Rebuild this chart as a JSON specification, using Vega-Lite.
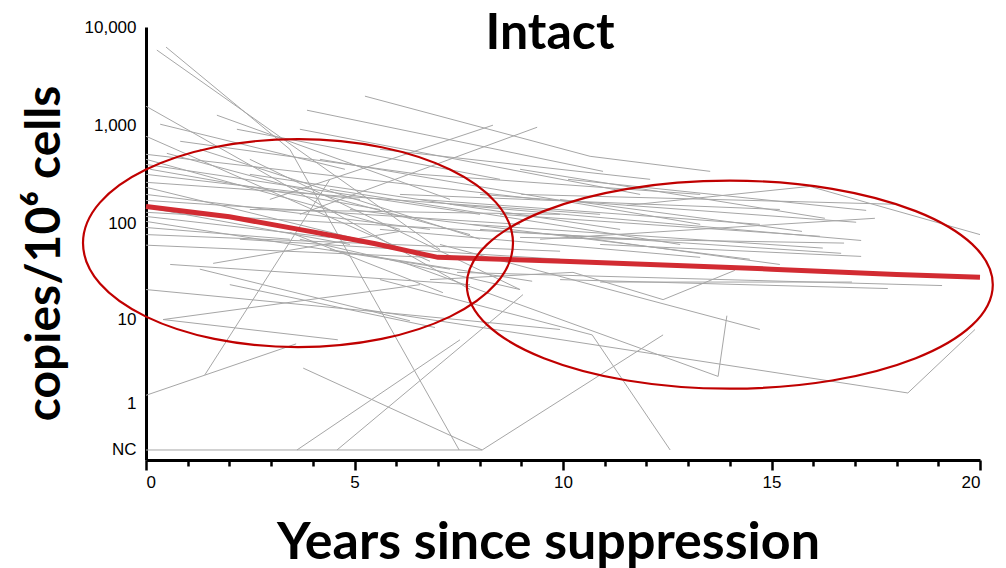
{
  "$schema": "https://vega.github.io/schema/vega-lite/v6.json",
  "width": 834,
  "height": 433,
  "autosize": "none",
  "padding": {"left": 146, "top": 27, "right": 26, "bottom": 108},
  "background": "white",
  "config": {"view": {"stroke": null}, "font": "Liberation Sans"},
  "title": {"text": "Intact", "font": "Lato", "fontSize": 50, "fontWeight": "bold", "color": "black", "anchor": "middle", "frame": "group", "baseline": "alphabetic", "offset": 0, "dy": 81, "dx": -13},
  "datasets": {
    "patients": [
      {"id":1,"year":0.26,"copies":5826},{"id":1,"year":7.05,"copies":54},
      {"id":2,"year":0.48,"copies":6250},{"id":2,"year":3.45,"copies":570},{"id":2,"year":7.51,"copies":0},
      {"id":3,"year":0,"copies":1565},{"id":3,"year":7.77,"copies":21},
      {"id":4,"year":0,"copies":774},{"id":4,"year":6.81,"copies":41},
      {"id":5,"year":0,"copies":507},{"id":5,"year":9.45,"copies":176},
      {"id":6,"year":0,"copies":263},{"id":6,"year":10.89,"copies":124},
      {"id":7,"year":0,"copies":234},{"id":7,"year":5.61,"copies":61},
      {"id":8,"year":0,"copies":172},{"id":8,"year":8.97,"copies":98},
      {"id":9,"year":0,"copies":130},{"id":9,"year":11.85,"copies":69},
      {"id":10,"year":0,"copies":118},{"id":10,"year":4.41,"copies":72},
      {"id":11,"year":0,"copies":105},{"id":11,"year":7.29,"copies":34},
      {"id":12,"year":0,"copies":77},{"id":12,"year":9.93,"copies":52},
      {"id":13,"year":0,"copies":60},{"id":13,"year":8.97,"copies":41},
      {"id":14,"year":0,"copies":20.9},{"id":14,"year":9.93,"copies":7.9},
      {"id":15,"year":0,"copies":1.3},{"id":15,"year":3.6,"copies":5.5},
      {"id":16,"year":1.41,"copies":2.4},{"id":16,"year":4.41,"copies":282},
      {"id":17,"year":0,"copies":0},{"id":17,"year":8.06,"copies":0},{"id":17,"year":12.4,"copies":6.9},
      {"id":18,"year":3.62,"copies":0},{"id":18,"year":7.53,"copies":6.1},
      {"id":19,"year":4.58,"copies":0},{"id":19,"year":9.04,"copies":18.5},
      {"id":20,"year":3.77,"copies":2.9},{"id":20,"year":8.06,"copies":0},
      {"id":21,"year":5.61,"copies":26.5},{"id":21,"year":10.7,"copies":6.9},{"id":21,"year":12.57,"copies":0},
      {"id":22,"year":6.09,"copies":41},{"id":22,"year":13.72,"copies":2.3},{"id":22,"year":13.93,"copies":11.1},
      {"id":23,"year":5.25,"copies":12.9},{"id":23,"year":18.27,"copies":1.4},{"id":23,"year":19.88,"copies":7.9},
      {"id":24,"year":6.81,"copies":26.5},{"id":24,"year":10.24,"copies":31.5},{"id":24,"year":12.4,"copies":16.4},{"id":24,"year":14.12,"copies":33},
      {"id":25,"year":7.05,"copies":61},{"id":25,"year":14.72,"copies":7.9},
      {"id":26,"year":5.25,"copies":1980},{"id":26,"year":10.65,"copies":484},{"id":26,"year":13.53,"copies":340},
      {"id":27,"year":2.97,"copies":176},{"id":27,"year":8.32,"copies":1003},
      {"id":28,"year":3.69,"copies":124},{"id":28,"year":9.38,"copies":956},
      {"id":29,"year":3.86,"copies":1425},{"id":29,"year":10.96,"copies":340},
      {"id":30,"year":1.7,"copies":1268},{"id":30,"year":7.29,"copies":176},
      {"id":31,"year":2.18,"copies":912},{"id":31,"year":8.49,"copies":282},
      {"id":32,"year":0.82,"copies":688},{"id":32,"year":6.57,"copies":317},
      {"id":33,"year":0.5,"copies":519},{"id":33,"year":7.77,"copies":77},
      {"id":34,"year":11.53,"copies":153},{"id":34,"year":15.92,"copies":239},{"id":34,"year":20,"copies":77},
      {"id":35,"year":10.12,"copies":282},{"id":35,"year":17.27,"copies":136},
      {"id":36,"year":8.97,"copies":357},{"id":36,"year":16.28,"copies":113},
      {"id":37,"year":9.45,"copies":69},{"id":37,"year":17.48,"copies":113},
      {"id":38,"year":8.01,"copies":198},{"id":38,"year":17.03,"copies":103},
      {"id":39,"year":9.93,"copies":176},{"id":39,"year":15.73,"copies":83},
      {"id":40,"year":8.49,"copies":124},{"id":40,"year":16.16,"copies":74},
      {"id":41,"year":7.29,"copies":157},{"id":41,"year":17.15,"copies":67},
      {"id":42,"year":7.77,"copies":98},{"id":42,"year":16.23,"copies":56},
      {"id":43,"year":8.97,"copies":72},{"id":43,"year":16.74,"copies":63},
      {"id":44,"year":10.89,"copies":61},{"id":44,"year":17.15,"copies":46},
      {"id":45,"year":8.01,"copies":87},{"id":45,"year":16.67,"copies":49.5},
      {"id":46,"year":9.93,"copies":26.5},{"id":46,"year":17.79,"copies":21.4},
      {"id":47,"year":7.46,"copies":31.5},{"id":47,"year":19.09,"copies":23},
      {"id":48,"year":10.89,"copies":25},{"id":48,"year":16.93,"copies":25},
      {"id":49,"year":0.41,"copies":10.1},{"id":49,"year":4.6,"copies":6.1},
      {"id":50,"year":0.41,"copies":10.1},{"id":50,"year":6.57,"copies":23.5},
      {"id":51,"year":0.58,"copies":38},{"id":51,"year":7.77,"copies":23.5},
      {"id":52,"year":1.61,"copies":39},{"id":52,"year":6.09,"copies":83},
      {"id":54,"year":2.49,"copies":451},{"id":54,"year":8.97,"copies":20.9},
      {"id":56,"year":3.45,"copies":81},{"id":56,"year":7.12,"copies":19.4},
      {"id":57,"year":1.29,"copies":34},{"id":57,"year":6.33,"copies":9.8},
      {"id":58,"year":2.01,"copies":23.5},{"id":58,"year":6.93,"copies":8.3},
      {"id":59,"year":4.41,"copies":54},{"id":59,"year":9.26,"copies":25.5},
      {"id":60,"year":3.69,"copies":69},{"id":60,"year":8.97,"copies":20.9},
      {"id":61,"year":0.1,"copies":357},{"id":61,"year":5.61,"copies":139},
      {"id":62,"year":0.34,"copies":1026},{"id":62,"year":4.77,"copies":357},
      {"id":63,"year":3.69,"copies":912},{"id":63,"year":11.85,"copies":198},
      {"id":64,"year":4.17,"copies":451},{"id":64,"year":13.29,"copies":98},
      {"id":65,"year":6.09,"copies":198},{"id":65,"year":15.2,"copies":139},
      {"id":66,"year":4.89,"copies":139},{"id":66,"year":14.48,"copies":43},
      {"id":67,"year":9.93,"copies":77},{"id":67,"year":15.2,"copies":38},
      {"id":68,"year":2.25,"copies":69},{"id":68,"year":9.93,"copies":43},
      {"id":69,"year":0,"copies":451},{"id":69,"year":6.09,"copies":87},
      {"id":70,"year":0,"copies":317},{"id":70,"year":5.13,"copies":176},
      {"id":71,"year":1.29,"copies":570},{"id":71,"year":8.01,"copies":69},
      {"id":73,"year":2.49,"copies":139},{"id":73,"year":9.93,"copies":124},
      {"id":74,"year":5.61,"copies":570},{"id":74,"year":12.09,"copies":282},
      {"id":75,"year":6.57,"copies":317},{"id":75,"year":13.29,"copies":198},
      {"id":76,"year":0,"copies":400},{"id":76,"year":8.01,"copies":124},
      {"id":77,"year":0,"copies":198},{"id":77,"year":6.81,"copies":87},
      {"id":78,"year":0,"copies":146},{"id":78,"year":4.89,"copies":61},
      {"id":79,"year":0,"copies":91},{"id":79,"year":3.45,"copies":69},
      {"id":80,"year":2.49,"copies":317},{"id":80,"year":11.37,"copies":87},
      {"id":81,"year":4.41,"copies":223},{"id":81,"year":12.81,"copies":61},
      {"id":82,"year":6.57,"copies":176},{"id":82,"year":14.72,"copies":98},
      {"id":83,"year":5.61,"copies":87},{"id":83,"year":13.29,"copies":45},
      {"id":84,"year":9.0,"copies":198},{"id":84,"year":18.0,"copies":157}
    ],
    "trend": [
      {"year":0,"copies":149},{"year":2,"copies":117},{"year":4,"copies":82},{"year":5.5,"copies":62},
      {"year":6.5,"copies":50},{"year":7,"copies":45},{"year":10,"copies":41},{"year":15,"copies":34},
      {"year":18,"copies":30},{"year":20,"copies":28}
    ],
    "regions": [
      {"region":"early","year":3.645,"copies":63},
      {"region":"late","year":14.0,"copies":23.5}
    ]
  },
  "layer": [
    {
      "data": {"name": "patients"},
      "mark": {"type": "line", "color": "#a6a6a6", "strokeWidth": 1, "clip": false},
      "encoding": {
        "x": {"field": "year", "type": "quantitative",
          "scale": {"domain": [0, 20], "nice": false, "zero": false},
          "axis": {"values": [0,1,2,3,4,5,6,7,8,9,10,11,12,13,14,15,16,17,18,19,20],
            "labelExpr": "datum.value % 5 === 0 ? datum.label : ''",
            "labelOverlap": false, "grid": false,
            "domainColor": "black", "domainWidth": 3,
            "tickColor": "black", "tickWidth": 2.5,
            "tickSize": {"condition": {"test": "datum.value % 5 === 0", "value": 10}, "value": 6},
            "labelFont": "Liberation Sans", "labelFontSize": 17, "labelColor": "black", "labelPadding": 4,
            "title": "Years since suppression", "titleFont": "Lato", "titleFontSize": 52, "titleFontWeight": "bold",
            "titleColor": "black", "titleX": 402, "titleY": 98, "titleBaseline": "alphabetic", "titleAlign": "center"}},
        "y": {"field": "copies", "type": "quantitative",
          "scale": {"type": "symlog", "constant": 0.5, "domain": [-0.132, 10000], "nice": false, "zero": false},
          "axis": {"values": [0, 1, 10, 100, 1000, 10000],
            "labelExpr": "datum.value === 0 ? 'NC' : format(datum.value, ',')",
            "ticks": false, "grid": false, "domainColor": "black", "domainWidth": 3,
            "labelFont": "Liberation Sans", "labelFontSize": 17, "labelColor": "black", "labelPadding": 10,
            "title": "copies/10⁶ cells", "titleFont": "Lato", "titleFontSize": 48, "titleFontWeight": "bold",
            "titleColor": "black", "titleX": -101, "titleY": 226, "titleAngle": -90, "titleBaseline": "middle", "titleAlign": "center"}},
        "detail": {"field": "id", "type": "nominal"}
      }
    },
    {
      "data": {"name": "trend"},
      "mark": {"type": "line", "color": "#d22b32", "strokeWidth": 5},
      "encoding": {
        "x": {"field": "year", "type": "quantitative"},
        "y": {"field": "copies", "type": "quantitative"}
      }
    },
    {
      "data": {"name": "regions"},
      "transform": [{"filter": "datum.region === 'early'"}],
      "mark": {"type": "point", "filled": false, "opacity": 1, "stroke": "#c00000", "strokeWidth": 2.2, "size": 184900,
        "shape": "M-1,0C-1,-0.2672,-0.5523,-0.4837,0,-0.4837C0.5523,-0.4837,1,-0.2672,1,0C1,0.2672,0.5523,0.4837,0,0.4837C-0.5523,0.4837,-1,0.2672,-1,0Z"},
      "encoding": {
        "x": {"field": "year", "type": "quantitative"},
        "y": {"field": "copies", "type": "quantitative"}
      }
    },
    {
      "data": {"name": "regions"},
      "transform": [{"filter": "datum.region === 'late'"}],
      "mark": {"type": "point", "filled": false, "opacity": 1, "stroke": "#c00000", "strokeWidth": 2.2, "size": 276676,
        "shape": "M-1,0C-1,-0.2184,-0.5523,-0.3954,0,-0.3954C0.5523,-0.3954,1,-0.2184,1,0C1,0.2184,0.5523,0.3954,0,0.3954C-0.5523,0.3954,-1,0.2184,-1,0Z"},
      "encoding": {
        "x": {"field": "year", "type": "quantitative"},
        "y": {"field": "copies", "type": "quantitative"}
      }
    }
  ]
}
